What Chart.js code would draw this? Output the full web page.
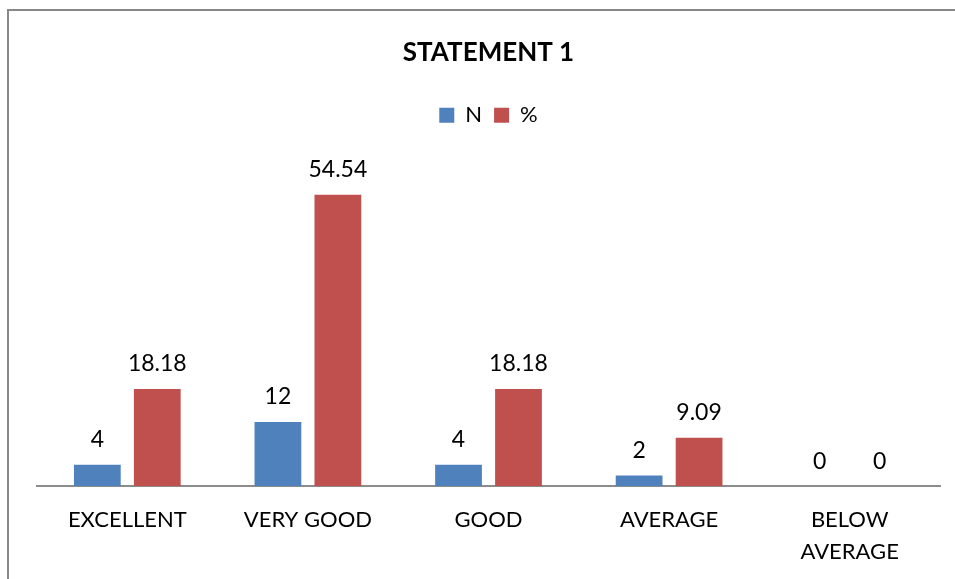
<!DOCTYPE html>
<html>
<head>
<meta charset="utf-8">
<script src="https://cdn.jsdelivr.net/npm/chart.js@4"></script>
<style>
  html, body { margin: 0; padding: 0; background: #fff; overflow: hidden; }
  #frame { position: absolute; left: 7px; top: 9px; width: 1000px; height: 1000px; border: 2px solid #888; }
  #wrap { position: absolute; left: 0; top: 0; width: 955px; height: 590px; }
</style>
</head>
<body>
<div id="frame"></div>
<div id="wrap"><canvas id="first_chart"></canvas></div>
<script>
const categories = ['EXCELLENT', 'VERY GOOD', 'GOOD', 'AVERAGE', ['BELOW', 'AVERAGE']];
const nValues = [4, 12, 4, 2, 0];
const pctValues = [18.18, 54.54, 18.18, 9.09, 0];

const font = 'Lato';

// value labels above each bar
const barLabels = {
    id: 'barLabels',
    afterDatasetsDraw(chart) {
        const ctx = chart.ctx;
        ctx.save();
        ctx.font = '23px ' + font;
        ctx.fillStyle = '#000';
        ctx.textAlign = 'center';
        ctx.textBaseline = 'middle';
        chart.data.datasets.forEach((ds, i) => {
            chart.getDatasetMeta(i).data.forEach((bar, j) => {
                ctx.fillText(String(ds.data[j]), bar.x, bar.y - 25);
            });
        });
        ctx.restore();
    }
};

const ctx1 = document.getElementById('first_chart');

const myChart1 = new Chart(ctx1, {
    type: 'bar',
    data: {
        labels: categories,
        datasets: [{
            label: 'N',
            data: nValues,
            backgroundColor: '#4f81bd',
            categoryPercentage: 0.664,
            barPercentage: 0.78
        }, {
            label: '%',
            data: pctValues,
            backgroundColor: '#c0504d',
            categoryPercentage: 0.664,
            barPercentage: 0.78
        }]
    },
    options: {
        responsive: true,
        maintainAspectRatio: false,
        animation: false,
        layout: {
            padding: { top: 0, left: 37, right: 15, bottom: 4 }
        },
        plugins: {
            title: {
                display: true,
                text: 'STATEMENT 1',
                color: '#000',
                font: { family: font, size: 26, weight: 'bold' },
                padding: { top: 37, bottom: 24 }
            },
            legend: {
                labels: {
                    boxWidth: 15,
                    boxHeight: 15,
                    padding: 12,
                    color: '#000',
                    font: { family: font, size: 22 }
                }
            },
            tooltip: { enabled: false }
        },
        scales: {
            x: {
                grid: { display: false, drawTicks: false },
                border: { display: true, color: '#8c8c8c', width: 2 },
                ticks: {
                    color: '#000',
                    padding: 18,
                    font: { family: font, size: 22, lineHeight: 1.45 }
                }
            },
            y: {
                display: false,
                beginAtZero: true,
                max: 65.5
            }
        }
    },
    plugins: [barLabels]
});
</script>
</body>
</html>
